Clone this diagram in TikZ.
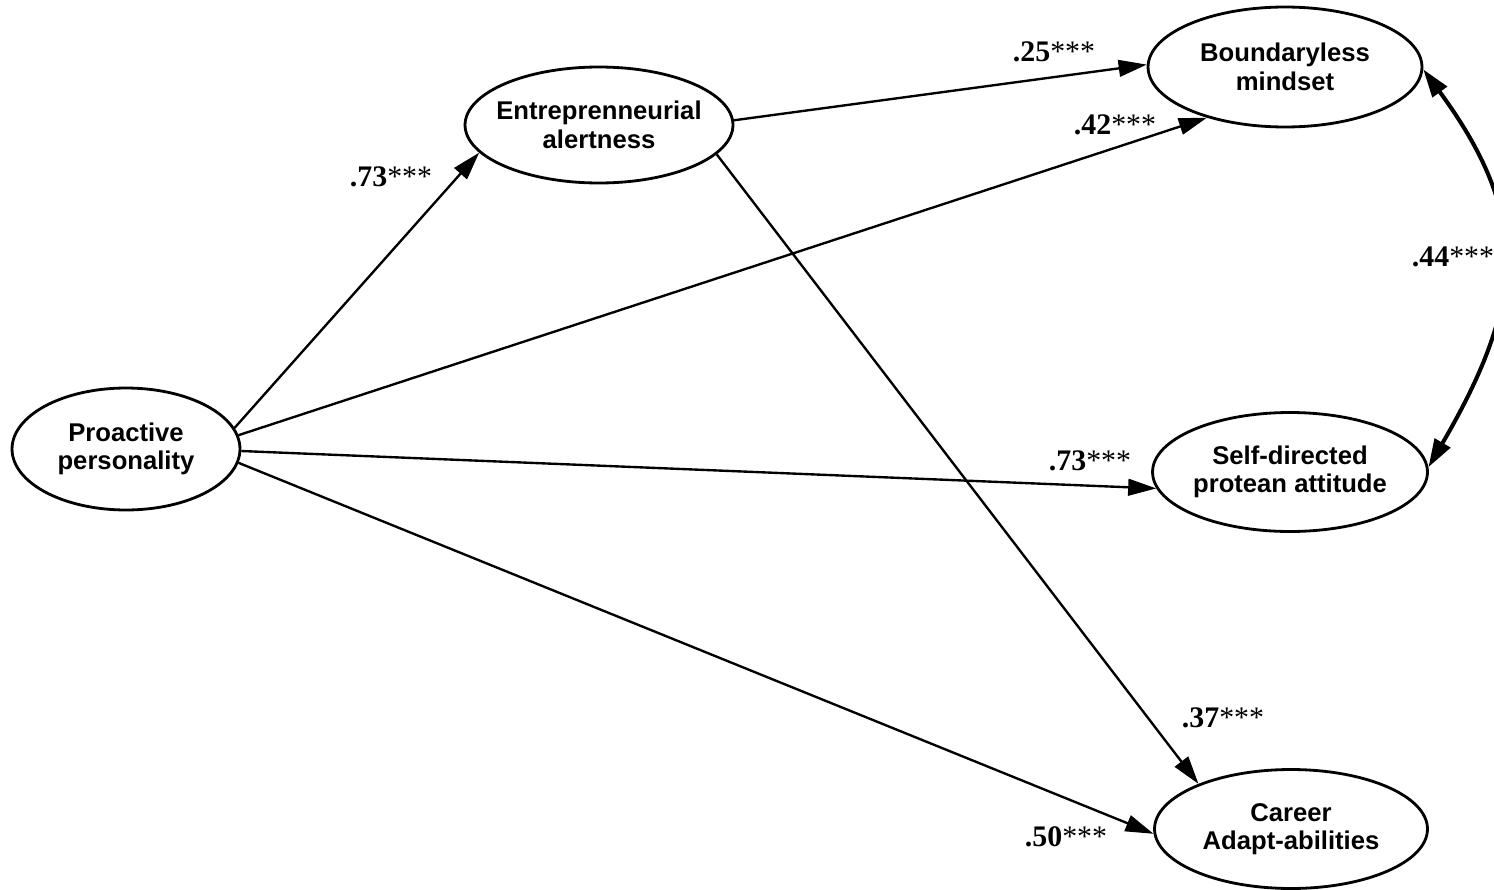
\documentclass[tikz,border=0pt]{standalone}
\usepackage{fontspec}
\setmainfont{Liberation Serif}
\newfontfamily\nodefont{Liberation Sans}
\usetikzlibrary{shapes.geometric,arrows.meta}
\begin{document}
\begin{tikzpicture}[x=0.02cm,y=-0.02cm,
  latent/.style={ellipse,draw,line width=1.6pt,inner ysep=0pt,inner xsep=-0.3cm,align=center,
    font=\nodefont\bfseries\fontsize{14.6}{16.2}\selectfont},
  patharrow/.style={line width=1.35pt,-{Triangle[length=16pt,width=9.5pt]}},
  covarrow/.style={line width=2.3pt,{Triangle[length=16pt,width=10pt]}-{Triangle[length=16pt,width=10pt]}},
  coef/.style={inner sep=0pt,font=\fontsize{17}{19}\selectfont}]
\useasboundingbox (0,0) rectangle (1494,889);

\node[latent,minimum width=4.56cm,minimum height=2.44cm] (P) at (126,449) {Proactive\\personality};
\node[latent,minimum width=5.36cm,minimum height=2.32cm] (E) at (599,125) {Entreprenneurial\\alertness};
\node[latent,minimum width=5.48cm,minimum height=2.4cm] (B) at (1285,67) {Boundaryless\\mindset};
\node[latent,minimum width=5.5cm,minimum height=2.38cm] (S) at (1290,472) {Self-directed\\protean attitude};
\node[latent,minimum width=5.46cm,minimum height=2.38cm] (C) at (1291,829) {Career\\Adapt-abilities};

\draw[patharrow] (P.11) -- (E.-167);
\draw[patharrow] (P.7) -- (B.213);
\draw[patharrow] (P.-1) -- (S.187);
\draw[patharrow] (P.-7) -- (C.182);
\draw[patharrow] (E.2) -- (B.179);
\draw[patharrow] (E.-14.7) -- (C.154.7);
\draw[covarrow] (B.-1) .. controls (1530,215) and (1526,300) .. (S.2);

\node[coef] (l1) at (391,177) {\textbf{.73}***};
\node[coef] (l2) at (1054,52) {\textbf{.25}***};
\node[coef] (l3) at (1115,125) {\textbf{.42}***};
\node[coef] (l4) at (1453,257) {\textbf{.44}***};
\node[coef] (l5) at (1090,461) {\textbf{.73}***};
\node[coef] (l6) at (1223,718) {\textbf{.37}***};
\node[coef] (l7) at (1066,837) {\textbf{.50}***};
\end{tikzpicture}
\end{document}
